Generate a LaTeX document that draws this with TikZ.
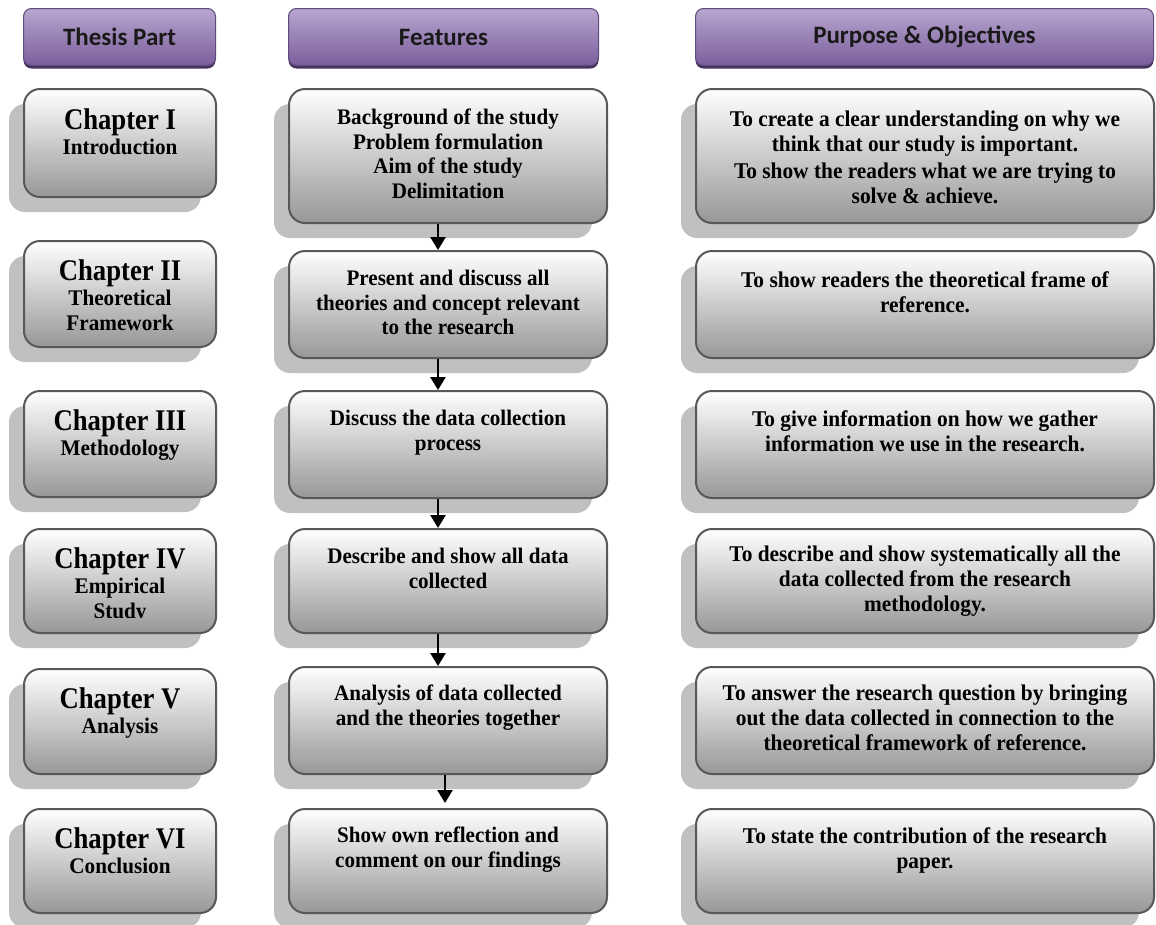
\documentclass[tikz,border=0pt]{standalone}
\usepackage{fontspec}
\setmainfont{Liberation Serif}[FakeStretch=0.95]
\newfontfamily\chapfont{Liberation Serif}[FakeStretch=0.89]
\newfontfamily\headfont{Carlito}
\usetikzlibrary{arrows.meta,shadows,calc}

\definecolor{boxline}{HTML}{585858}
\definecolor{boxbottom}{HTML}{979797}
\definecolor{shadowgray}{HTML}{C0C0C0}
\definecolor{hdtop}{HTML}{B8A6CF}
\definecolor{hdmid}{HTML}{8264A5}
\definecolor{hdbot}{HTML}{7A5E9C}
\definecolor{hdline}{HTML}{5E4A7C}
\definecolor{hdedge}{HTML}{45335F}

\tikzset{
  header/.style={rounded corners=8pt, draw=hdline, line width=1pt,
    top color=hdtop, middle color=hdmid, bottom color=hdbot,
    general shadow={fill=hdedge, draw=none, shadow yshift=-3pt},
    inner sep=0pt, anchor=north west,
    font=\headfont\bfseries\fontsize{25}{30}\selectfont, text=black!90},
  card/.style={rounded corners=16pt, draw=boxline, line width=2pt,
    top color=white, bottom color=boxbottom,
    general shadow={fill=shadowgray, draw=none, shadow xshift=-15pt, shadow yshift=-15pt},
    inner sep=0pt, anchor=north west},
  chaptxt/.style={anchor=north, inner sep=0pt, align=center,
    font=\bfseries\fontsize{22.3}{25}\selectfont},
  midtxt/.style={anchor=north, inner sep=0pt, align=center,
    font=\bfseries\fontsize{22.2}{24.5}\selectfont},
  purptxt/.style={anchor=north, inner sep=0pt, align=center,
    font=\bfseries\fontsize{22.5}{25}\selectfont},
  flow/.style={line width=2.5pt, -{Triangle[width=15pt,length=13pt]}},
}
\newcommand{\chap}[1]{{\chapfont\bfseries\fontsize{30}{25}\selectfont #1}}

\begin{document}
\begin{tikzpicture}[x=1pt, y=-1pt]
\useasboundingbox (0,0) rectangle (1156,924);

% column headings
\node[header, minimum width=192pt, minimum height=57pt] (h1) at (23,8) {Thesis Part};
\node[header, minimum width=310pt, minimum height=57pt] (h2) at (288,8) {Features};
\node[header, minimum width=458pt, minimum height=57pt] (h3) at (695,8) {Purpose \& Objectives};

% thesis parts
\node[card, minimum width=192pt, minimum height=108pt] (c1) at (23,88) {};
\node[card, minimum width=192pt, minimum height=106pt] (c2) at (23,240) {};
\node[card, minimum width=192pt, minimum height=106pt] (c3) at (23,390) {};
\node[card, minimum width=192pt, minimum height=104pt] (c4) at (23,528) {};
\node[card, minimum width=192pt, minimum height=105pt] (c5) at (23,668) {};
\node[card, minimum width=192pt, minimum height=104pt] (c6) at (23,808) {};

% features
\node[card, minimum width=318pt, minimum height=134pt] (m1) at (288,88) {};
\node[card, minimum width=318pt, minimum height=107pt] (m2) at (288,250) {};
\node[card, minimum width=318pt, minimum height=107pt] (m3) at (288,390) {};
\node[card, minimum width=318pt, minimum height=104pt] (m4) at (288,528) {};
\node[card, minimum width=318pt, minimum height=107pt] (m5) at (288,666) {};
\node[card, minimum width=318pt, minimum height=104pt] (m6) at (288,808) {};

% purposes
\node[card, minimum width=458pt, minimum height=134pt] (p1) at (695,88) {};
\node[card, minimum width=458pt, minimum height=107pt] (p2) at (695,250) {};
\node[card, minimum width=458pt, minimum height=107pt] (p3) at (695,390) {};
\node[card, minimum width=458pt, minimum height=104pt] (p4) at (695,528) {};
\node[card, minimum width=458pt, minimum height=107pt] (p5) at (695,666) {};
\node[card, minimum width=458pt, minimum height=104pt] (p6) at (695,808) {};

% texts of the thesis parts
\node[chaptxt] (c1t) at ([yshift=-20pt]c1.north) {\chap{Chapter I}\\Introduction};
\node[chaptxt] (c2t) at ([yshift=-19pt]c2.north) {\chap{Chapter II}\\Theoretical\\Framework};
\node[chaptxt] (c3t) at ([yshift=-19pt]c3.north) {\chap{Chapter III}\\Methodology};
\begin{scope}
  % the last line runs past the text area and is cut off
  \clip (c4.north west) rectangle ([yshift=17pt]c4.south east);
  \node[chaptxt] (c4t) at ([yshift=-19pt]c4.north) {\chap{Chapter IV}\\Empirical\\Study};
\end{scope}
\node[chaptxt] (c5t) at ([yshift=-19pt]c5.north) {\chap{Chapter V}\\Analysis};
\node[chaptxt] (c6t) at ([yshift=-19pt]c6.north) {\chap{Chapter VI}\\Conclusion};

% texts of the features
\node[midtxt] (m1t) at ([yshift=-21pt]m1.north) {Background of the study\\Problem formulation\\Aim of the study\\Delimitation};
\node[midtxt] (m2t) at ([yshift=-20pt]m2.north) {Present and discuss all\\theories and concept relevant\\to the research};
\node[midtxt] (m3t) at ([yshift=-20pt]m3.north) {Discuss the data collection\\process};
\node[midtxt] (m4t) at ([yshift=-20pt]m4.north) {Describe and show all data\\collected};
\node[midtxt] (m5t) at ([yshift=-19pt]m5.north) {Analysis of data collected\\and the theories together};
\node[midtxt] (m6t) at ([yshift=-19pt]m6.north) {Show own reflection and\\comment on our findings};

% texts of the purposes
\node[purptxt] (p1t) at ([yshift=-23pt]p1.north) {To create a clear understanding on why we\\think that our study is important.\\[2pt]To show the readers what we are trying to\\solve \& achieve.};
\node[purptxt] (p2t) at ([yshift=-21pt]p2.north) {To show readers the theoretical frame of\\reference.};
\node[purptxt] (p3t) at ([yshift=-20pt]p3.north) {To give information on how we gather\\information we use in the research.};
\node[purptxt] (p4t) at ([yshift=-18pt]p4.north) {To describe and show systematically all the\\data collected from the research\\methodology.};
\node[purptxt] (p5t) at ([yshift=-19pt]p5.north) {To answer the research question by bringing\\out the data collected in connection to the\\theoretical framework of reference.};
\node[purptxt] (p6t) at ([yshift=-19pt]p6.north) {To state the contribution of the research\\paper.};

% flow between the features
\draw[flow] ([xshift=-10pt]m1.south) -- ([xshift=-10pt]m2.north);
\draw[flow] ([xshift=-10pt]m2.south) -- ([xshift=-10pt]m3.north);
\draw[flow] ([xshift=-10pt]m3.south) -- ([xshift=-10pt]m4.north);
\draw[flow] ([xshift=-10pt]m4.south) -- ([xshift=-10pt]m5.north);
\draw[flow] ([xshift=-3pt]m5.south) -- ([xshift=-3pt,yshift=5pt]m6.north);
\end{tikzpicture}
\end{document}
